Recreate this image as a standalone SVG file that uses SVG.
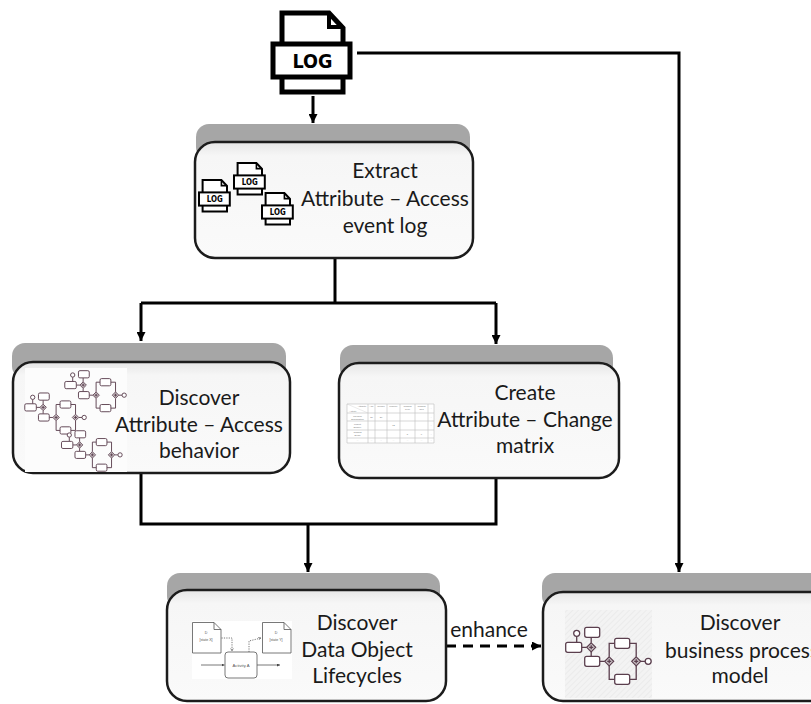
<svg xmlns="http://www.w3.org/2000/svg" width="811" height="704" viewBox="0 0 811 704">
<style>
  .bar{fill:#a6a6a6}
  .box{fill:url(#boxFill);stroke:#1c1c1c;stroke-width:2.5}
  .lbl{font-family:Lato,"Liberation Sans",sans-serif;font-size:21px;fill:#1a1a1a;text-anchor:middle}
  .conn{fill:none;stroke:#000;stroke-width:3}
  .logdoc{fill:#fff;stroke:#000;stroke-width:5;stroke-linejoin:miter}
  .logtxt{font-family:"DejaVu Sans",sans-serif;font-weight:bold;font-size:20px;fill:#000;text-anchor:middle}
  .bp{fill:none;stroke:#5b3f4e;stroke-width:1.3}
  .bpt{fill:#fff;stroke:#5b3f4e;stroke-width:1.3}
  .gw{fill:#c9c1c5;stroke:#5b3f4e;stroke-width:1.2}
  .grid{fill:none;stroke:#bdbdbd;stroke-width:0.6}
  .mt{font-family:"Liberation Sans",sans-serif;font-size:2.3px;fill:#777;text-anchor:middle}
  .dt{font-family:"Liberation Sans",sans-serif;font-size:3.6px;fill:#555;text-anchor:middle}
  .dline{fill:none;stroke:#555;stroke-width:0.8}
</style>
<defs>
  <linearGradient id="boxFill" x1="0" y1="0" x2="0" y2="1">
    <stop offset="0" stop-color="#e6e6e6"/>
    <stop offset="0.12" stop-color="#f6f6f6"/>
    <stop offset="1" stop-color="#fafafa"/>
  </linearGradient>
  <pattern id="hatch" width="4" height="4" patternUnits="userSpaceOnUse" patternTransform="rotate(45)">
    <rect width="4" height="4" fill="#f3f3f3"/>
    <line x1="0" y1="0" x2="0" y2="4" stroke="#e6e6e6" stroke-width="1.2"/>
  </pattern>
  <marker id="arrow" viewBox="0 0 10 10" refX="10" refY="5" markerWidth="10" markerHeight="9" markerUnits="userSpaceOnUse" orient="auto">
    <path d="M0,0L10,5L0,10Z" fill="#000"/>
  </marker>
  <marker id="tinyArrow" viewBox="0 0 10 10" refX="10" refY="5" markerWidth="3" markerHeight="3" markerUnits="userSpaceOnUse" orient="auto">
    <path d="M0,0L10,5L0,10Z" fill="#444"/>
  </marker>
  <marker id="openArrow" viewBox="0 0 10 10" refX="9" refY="5" markerWidth="3.5" markerHeight="3.5" markerUnits="userSpaceOnUse" orient="auto">
    <path d="M1,1L9,5L1,9" fill="none" stroke="#555" stroke-width="1.5"/>
  </marker>
  <!-- log file icon, origin at the top-left of the sheet -->
  <g id="logIcon">
    <path class="logdoc" d="M0,79V0H47L61,15V79Z"/>
    <path d="M47,2V14H59" fill="none" stroke="#000" stroke-width="4"/>
    <rect class="logdoc" x="-9" y="31" width="77" height="33"/>
    <text class="logtxt" x="30.5" y="55" textLength="40" lengthAdjust="spacingAndGlyphs">LOG</text>
  </g>
  <!-- small BPMN fragment, origin at the start event -->
  <g id="bpmn">
    <path class="bp" d="M0,3V9M5,14H10M14.5,9.5V4M14.5,18.5V23M23,28H28M32.5,23.5V10H38M32.5,32.5V46H38M53,10H59.5V23.5M53,46H59.5V32.5M64,28H68.5"/>
    <circle class="bpt" cx="0" cy="0" r="3"/>
    <circle class="bpt" cx="71.5" cy="28" r="3"/>
    <rect class="bpt" x="-11" y="9" width="16" height="10" rx="2"/>
    <rect class="bpt" x="8" y="-6" width="15" height="10" rx="2"/>
    <rect class="bpt" x="8" y="23" width="15" height="10" rx="2"/>
    <rect class="bpt" x="38" y="5" width="15" height="10" rx="2"/>
    <rect class="bpt" x="38" y="41" width="15" height="10" rx="2"/>
    <path class="gw" d="M14.5,9.5L19,14L14.5,18.5L10,14Z"/>
    <path class="gw" d="M32.5,23.5L37,28L32.5,32.5L28,28Z"/>
    <path class="gw" d="M59.5,23.5L64,28L59.5,32.5L55,28Z"/>
    <path class="bp" d="M12.5,14H16.5M14.5,12V16M30.5,28H34.5M32.5,26V30M57.5,28H61.5M59.5,26V30"/>
  </g>
</defs>

<rect width="811" height="704" fill="#fff"/>

<!-- connectors -->
<g id="connectors">
  <path class="conn" d="M313,96V123" marker-end="url(#arrow)"/>
  <path class="conn" d="M357,53H679V572" marker-end="url(#arrow)"/>
  <path class="conn" d="M335,258V303"/>
  <path class="conn" d="M141,303H496"/>
  <path class="conn" d="M141,303V341" marker-end="url(#arrow)"/>
  <path class="conn" d="M496,303V344" marker-end="url(#arrow)"/>
  <path class="conn" d="M141,473V524H496V478"/>
  <path class="conn" d="M308,524V572" marker-end="url(#arrow)"/>
  <path class="conn" d="M446,646H541" stroke-dasharray="10 7" marker-end="url(#arrow)"/>
  <text class="lbl" x="489" y="637">enhance</text>
</g>

<!-- source log -->
<g id="log">
  <use href="#logIcon" transform="translate(282,13)"/>
</g>

<!-- extract node -->
<g id="extract">
  <rect class="bar" x="196" y="124" width="274" height="36" rx="13"/>
  <rect class="box" x="195" y="142" width="278" height="116" rx="20"/>
  <use href="#logIcon" transform="translate(202.6,180) scale(0.4)"/>
  <use href="#logIcon" transform="translate(237.6,163) scale(0.4)"/>
  <use href="#logIcon" transform="translate(265.6,193) scale(0.4)"/>
  <text class="lbl" x="385" y="178">Extract</text>
  <text class="lbl" x="385" y="206">Attribute – Access</text>
  <text class="lbl" x="385" y="233">event log</text>
</g>

<!-- discover attribute-access behavior node -->
<g id="behavior">
  <rect class="bar" x="12" y="343" width="274" height="36" rx="13"/>
  <rect class="box" x="13" y="362" width="277" height="111" rx="20"/>
  <rect x="25" y="368" width="102" height="104" fill="#fcfcfc"/>
  <use href="#bpmn" transform="translate(72.7,375) scale(0.72)"/>
  <use href="#bpmn" transform="translate(32.7,397.3) scale(0.72)"/>
  <use href="#bpmn" transform="translate(69.3,435) scale(0.71)"/>
  <text class="lbl" x="199" y="405">Discover</text>
  <text class="lbl" x="199" y="432">Attribute – Access</text>
  <text class="lbl" x="199" y="458">behavior</text>
</g>

<!-- create attribute-change matrix node -->
<g id="matrix">
  <rect class="bar" x="340" y="345" width="273" height="36" rx="13"/>
  <rect class="box" x="339" y="363" width="280" height="115" rx="20"/>
  <rect x="347" y="404" width="87" height="39" fill="#fff"/>
  <path class="grid" d="M347,404H434V443H347ZM347,413H434M347,421H434M347,430H434M347,438H434M368,404V443M375,404V443M387,404V443M400,404V443M415,404V443M428,404V443"/>
  <line x1="347" y1="404" x2="368" y2="413" stroke="#ccc" stroke-width="0.4"/>
  <text class="mt" x="362" y="407">Attribute</text>
  <text class="mt" x="353" y="412">Activity</text>
  <text class="mt" x="371.5" y="407">Age</text>
  <text class="mt" x="381" y="407">Gender</text>
  <text class="mt" x="393.5" y="407">Urgency</text>
  <text class="mt" x="407.5" y="407">Imaging</text>
  <text class="mt" x="407.5" y="410">Type</text>
  <text class="mt" x="421.5" y="407">Imaging</text>
  <text class="mt" x="421.5" y="410">Res</text>
  <text class="mt" x="431" y="409">...</text>
  <text class="mt" x="357.5" y="416.5">Physical</text>
  <text class="mt" x="357.5" y="419.5">Examination</text>
  <text class="mt" x="371.5" y="418">20</text>
  <text class="mt" x="381" y="418">20</text>
  <text class="mt" x="357.5" y="424.5">Urgent</text>
  <text class="mt" x="357.5" y="427.5">Surgery</text>
  <text class="mt" x="393.5" y="426">12</text>
  <text class="mt" x="357.5" y="433">Imaging</text>
  <text class="mt" x="357.5" y="436">Exam</text>
  <text class="mt" x="407.5" y="434.5">8</text>
  <text class="mt" x="421.5" y="434.5">6</text>
  <text class="mt" x="431" y="418">...</text>
  <text class="mt" x="431" y="426">...</text>
  <text class="mt" x="431" y="434.5">...</text>
  <text class="mt" x="357.5" y="441">...</text>
  <text class="mt" x="371.5" y="441">...</text>
  <text class="mt" x="381" y="441">...</text>
  <text class="mt" x="393.5" y="441">...</text>
  <text class="mt" x="407.5" y="441">...</text>
  <text class="mt" x="421.5" y="441">...</text>
  <text class="mt" x="431" y="441">...</text>
  <text class="lbl" x="525" y="400">Create</text>
  <text class="lbl" x="525" y="427">Attribute – Change</text>
  <text class="lbl" x="525" y="453">matrix</text>
</g>

<!-- discover data object lifecycles node -->
<g id="lifecycles">
  <rect class="bar" x="167" y="573" width="273" height="36" rx="13"/>
  <rect class="box" x="167" y="590" width="279" height="111" rx="20"/>
  <rect x="192" y="621" width="100" height="58" fill="#fff"/>
  <path class="dline" d="M192.5,622.5H214L221,629.5V653H192.5Z" fill="#fff"/>
  <path class="dline" d="M214,622.5V629.5H221"/>
  <text class="dt" x="206" y="634">D</text>
  <text class="dt" x="206" y="641">[state X]</text>
  <path class="dline" d="M262.5,622.5H284L291,629.5V653H262.5Z" fill="#fff"/>
  <path class="dline" d="M284,622.5V629.5H291"/>
  <text class="dt" x="276" y="634">D</text>
  <text class="dt" x="276" y="641">[state Y]</text>
  <path class="dline" d="M221.5,638H232V651" stroke-dasharray="1.2 1.2" marker-end="url(#openArrow)"/>
  <path class="dline" d="M249,652V641L261,638" stroke-dasharray="1.2 1.2" marker-end="url(#openArrow)"/>
  <rect x="225" y="652" width="32" height="26" rx="3" fill="#fff" stroke="#555" stroke-width="0.8"/>
  <text class="dt" x="241" y="667" style="font-size:4.2px">Activity A</text>
  <path class="dline" d="M201,665H224.5" marker-end="url(#tinyArrow)"/>
  <path class="dline" d="M257,665H280" marker-end="url(#tinyArrow)"/>
  <text class="lbl" x="357" y="630">Discover</text>
  <text class="lbl" x="357" y="657">Data Object</text>
  <text class="lbl" x="357" y="683">Lifecycles</text>
</g>

<!-- discover business process model node -->
<g id="process">
  <rect class="bar" x="542" y="573" width="290" height="36" rx="13"/>
  <rect class="box" x="543" y="592" width="290" height="109" rx="20"/>
  <rect x="565" y="610" width="87" height="88" fill="url(#hatch)"/>
  <use href="#bpmn" transform="translate(576.7,633.3)"/>
  <text class="lbl" x="740" y="630">Discover</text>
  <text class="lbl" x="742" y="658">business process</text>
  <text class="lbl" x="740" y="683">model</text>
</g>
</svg>
